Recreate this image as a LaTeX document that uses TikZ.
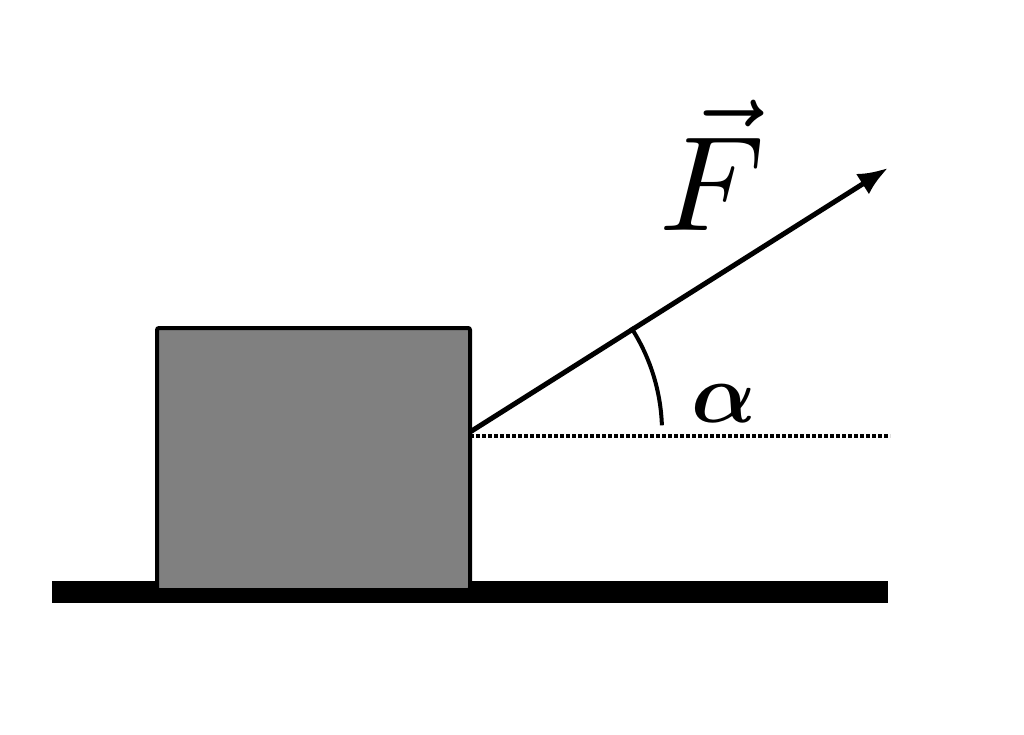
\documentclass[tikz,border=0pt]{standalone}
\usepackage{amsmath,amssymb,bm}
\usetikzlibrary{arrows.meta}
\begin{document}
\begin{tikzpicture}[x=1pt,y=-1pt,
	block/.style={draw=black,fill=black!50,line width=4pt,rounded corners=2pt},
	force/.style={line width=5pt,-{Latex[length=30pt,width=24pt]}}]
	\useasboundingbox (0,0) rectangle (1024,735);
	
	\fill (52,581) rectangle (888,603);
	\draw[block] (157,328) rectangle (470,590);
	
	\coordinate (P) at (470,432);
	\coordinate (E) at (888,168);
	\coordinate (D) at (890,436);
	\coordinate (Q) at (470,436);
	\draw[line width=4pt,dotted] (Q) -- (D);
	\draw[force] (P) -- (E);
	\draw[line width=4pt] ([shift={(-2:192)}]P) arc[start angle=-2,end angle=-33,radius=192];
	
	\node[scale=13.5,inner sep=0pt] (F) at (712,165) {$\vec{F}$};
	\node[scale=8.5,inner sep=0pt] (A) at (724,404) {$\bm{\alpha}$};
\end{tikzpicture}
\end{document}
